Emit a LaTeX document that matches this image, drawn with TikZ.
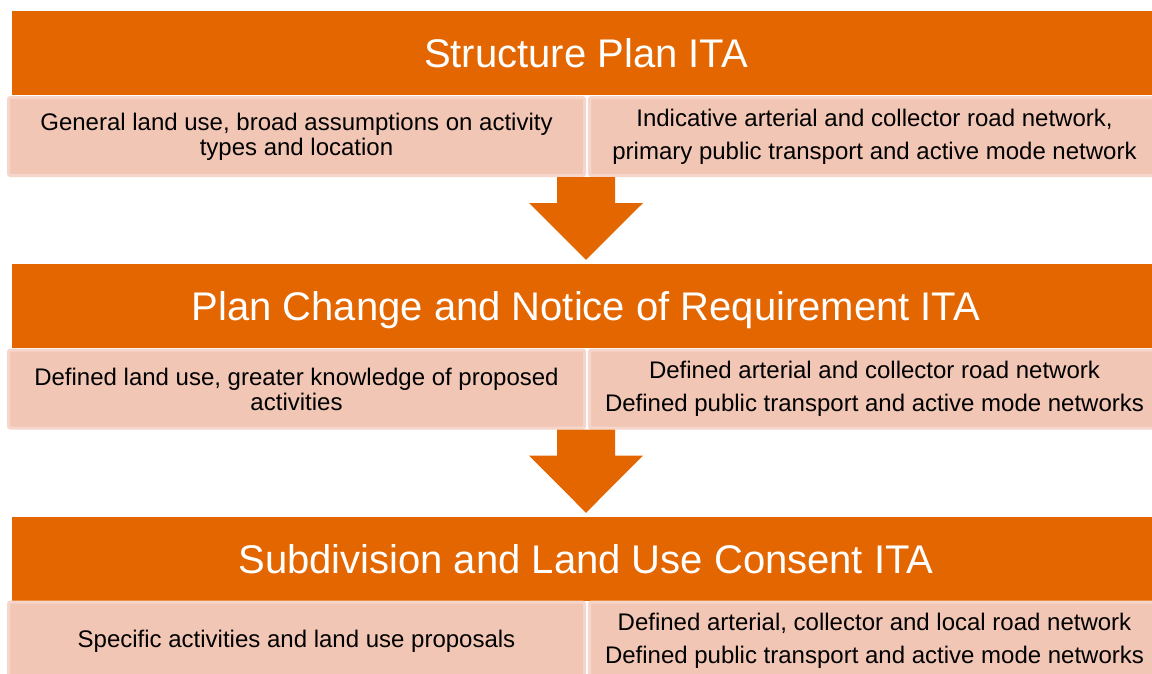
\documentclass[tikz,border=0pt]{standalone}
\usepackage{fontspec}
\setmainfont{Liberation Sans}
\usepackage{tikz}
\usetikzlibrary{calc}
\definecolor{itaorange}{HTML}{E46600}
\definecolor{itapink}{HTML}{F2C6B5}
\definecolor{itaedge}{HTML}{F6D6CB}
\begin{document}
\begin{tikzpicture}[x=1pt,y=-1pt,
    stage/.style={fill=itaorange, text=white, inner sep=0pt, minimum width=1148pt, minimum height=84pt,
      text height=29pt, text depth=0pt, font=\fontsize{40}{44}\selectfont},
    detail/.style={fill=itapink, draw=itaedge, line width=3pt, rounded corners=2pt, inner sep=0pt,
      minimum height=78pt, align=center, font=\fontsize{24}{25}\selectfont},
    leftcell/.style={detail, minimum width=576pt},
    rightcell/.style={detail, minimum width=570pt},
    arr/.style={fill=itaorange}]
    \clip (0,0) rectangle (1152,673);
    \fill[white] (0,0) rectangle (1152,673);
    \node[stage] (h1) at (586,53) {Structure Plan ITA};
    \node[stage] (h2) at (586,306) {Plan Change and Notice of Requirement ITA};
    \node[stage] (h3) at (586,559) {Subdivision and Land Use Consent ITA};
    \node[leftcell] (l1) at (296.5,136.5) {General land use, broad assumptions on activity\\types and location};
    \node[rightcell] (r1) at (874.5,136.5) {Indicative arterial and collector road network,\\[8pt]primary public transport and active mode network};
    \node[leftcell] (l2) at (296.5,389) {Defined land use, greater knowledge of proposed\\activities};
    \node[rightcell] (r2) at (874.5,389) {Defined arterial and collector road network\\[8pt]Defined public transport and active mode networks};
    \node[leftcell] (l3) at (296.5,641) {Specific activities and land use proposals};
    \node[rightcell] (r3) at (874.5,641) {Defined arterial, collector and local road network\\[8pt]Defined public transport and active mode networks};
    \foreach \a/\b in {l1/h2,l2/h3}{
      \coordinate (top) at (\a.south -| \b.north);
      \fill[arr] ($(top)+(-29,0)$) -- ($(top)+(29,0)$) -- ($(top)+(29,26)$) -- ($(top)+(57,26)$)
        -- ($(\b.north)+(0,-4)$) -- ($(top)+(-57,26)$) -- ($(top)+(-29,26)$) -- cycle;
    }
  \end{tikzpicture}
\end{document}
